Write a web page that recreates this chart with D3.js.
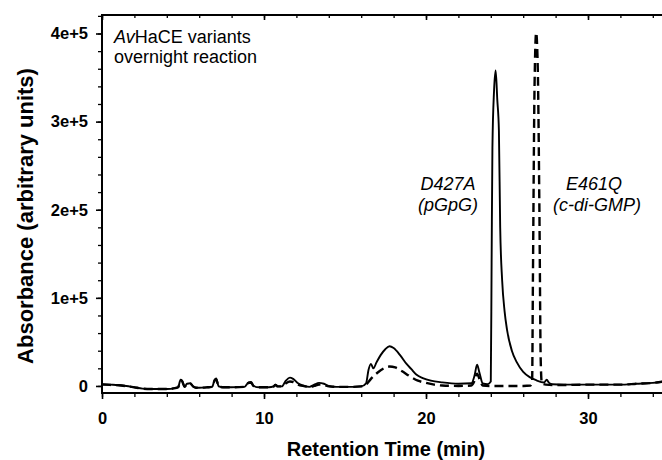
<!DOCTYPE html>
<html>
<head>
<meta charset="utf-8">
<script src="https://cdn.jsdelivr.net/npm/d3@7"></script>
<style>
  body { margin: 0; background: #fff; }
  svg { display: block; }
  text { font-family: "Liberation Sans", Arial, Helvetica, sans-serif; fill: #000; }
</style>
</head>
<body>
<svg id="chart" width="662" height="460"></svg>
<script>
// ---- data ----
const solidTime = [0,0.5,1,1.5,2,2.5,3,3.5,4,4.5,4.7,4.85,4.95,5.1,5.25,5.45,5.65,5.8,6.0,6.5,6.8,6.95,7.05,7.2,7.5,8,8.8,9.05,9.2,9.35,9.7,10.3,10.6,10.7,10.85,11.1,11.35,11.6,11.8,12.1,12.4,12.8,13.1,13.4,13.7,14.0,14.5,15,15.5,16.0,16.3,16.45,16.6,16.75,16.95,17.2,17.5,17.75,18.0,18.4,18.8,19.1,19.4,19.8,20.3,21,22,22.8,23.0,23.15,23.3,23.5,23.8,24.0,24.05,24.1,24.2,24.3,24.4,24.5,24.58,24.7,24.85,25.0,25.3,25.6,26.0,26.4,26.8,27.3,27.45,27.6,27.8,28.5,30,32,33,34,35];
const solidValue = [2000,1500,1000,0,-1500,-3000,-3500,-3500,-3500,-2500,-1500,7000,6000,-1000,2500,3000,-1000,-2000,-2000,-1500,-1000,7000,8500,-500,-1500,-1500,-1000,4000,4500,0,-1500,-1500,-500,1500,-500,-500,6000,9500,8000,3000,500,-1000,1500,3500,2500,0,-1000,-1000,-1000,-500,3000,18000,25000,20000,27000,35000,42000,45000,43000,35000,25000,19000,13000,9000,6000,4000,2500,3000,12000,24000,15000,3000,2000,5000,140000,270000,335000,358000,325000,290000,180000,120000,85000,64000,40000,27000,16000,10000,6500,4000,7000,3500,2000,1500,1500,1500,2500,3500,6000];

const dashTime = [0,0.5,1,1.5,2,2.5,3,3.5,4,4.5,4.7,4.85,4.95,5.1,5.25,5.45,5.65,5.8,6.0,6.5,6.8,6.95,7.05,7.2,7.5,8,8.8,9.05,9.2,9.35,9.7,10.3,10.6,10.7,10.85,11.1,11.35,11.6,11.8,12.1,12.4,12.8,13.1,13.4,13.7,14.0,14.5,15,15.5,16.0,16.3,16.6,17.0,17.4,17.75,18.1,18.5,19.0,19.5,20,20.5,21,22,22.8,23.0,23.15,23.3,23.5,24,25,26,26.45,26.55,26.6,26.7,26.8,26.9,27.0,27.08,27.15,27.4,28,30,32,33,34,35];
const dashValue = [1500,1200,800,-200,-1600,-3000,-3500,-3500,-3500,-2500,-1500,6000,5000,-1000,2000,2500,-1000,-2000,-2000,-1500,-1000,6000,7500,-500,-1500,-1500,-1000,3500,4000,0,-1500,-1500,-500,1000,-500,-500,3000,5000,4500,1500,0,-1000,0,1500,1000,-500,-1000,-1000,-1000,-500,1500,8000,15000,20000,22000,21000,17000,11000,6000,3500,1500,500,0,500,6000,14000,8000,500,0,0,0,500,5000,120000,340000,401000,360000,200000,30000,3000,1500,1000,1500,1500,2500,3500,6000];

const yTickValues = [0,100000,200000,300000,400000];
const yTickLabels = ["0","1e+5","2e+5","3e+5","4e+5"];
const xTickValues = [0,10,20,30];
const xTickLabels = ["0","10","20","30"];

// ---- layout ----
const svg = d3.select("#chart");
const W = 662;
const x = d3.scaleLinear().domain([0,35]).range([102, 669]);
const y = d3.scaleLinear().domain([-8000, 421000]).range([393, 15]);

const yMinor = d3.range(0, 420001, 20000);
const xMinor = d3.range(0, 35.01, 2);

// Frame lines
svg.append("line").attr("x1",x(0)).attr("x2",W).attr("y1",y.range()[1]).attr("y2",y.range()[1])
  .attr("stroke","#000").attr("stroke-width",2);
svg.append("line").attr("x1",x(0)).attr("x2",W).attr("y1",y.range()[0]).attr("y2",y.range()[0])
  .attr("stroke","#000").attr("stroke-width",2);
svg.append("line").attr("x1",x(0)).attr("x2",x(0)).attr("y1",y.range()[1]-1).attr("y2",y.range()[0]+1)
  .attr("stroke","#000").attr("stroke-width",2);

// Y axis (ticks outward)
const yAxisMinor = d3.axisLeft(y).tickValues(yMinor).tickSize(4).tickFormat("");
const gyMinor = svg.append("g").attr("transform",`translate(${x(0)},0)`).call(yAxisMinor);
gyMinor.select(".domain").remove();
gyMinor.selectAll("line").attr("stroke-width",1.3);

const yAxis = d3.axisLeft(y).tickValues(yTickValues).tickSize(6).tickPadding(8)
  .tickFormat((d,i) => yTickLabels[i]);
const gy = svg.append("g").attr("transform",`translate(${x(0)},0)`).call(yAxis);
gy.select(".domain").remove();
gy.selectAll("line").attr("stroke-width",1.6);
gy.selectAll("text").attr("font-size",16.5).attr("font-weight","bold")
  .style("font-family",'"Liberation Sans", Arial, sans-serif');

// X axis bottom (ticks outward)
const xAxisMinor = d3.axisBottom(x).tickValues(xMinor).tickSize(4).tickFormat("");
const gxMinor = svg.append("g").attr("transform",`translate(0,${y.range()[0]})`).call(xAxisMinor);
gxMinor.select(".domain").remove();
gxMinor.selectAll("line").attr("stroke-width",1.3);

const xAxis = d3.axisBottom(x).tickValues(xTickValues).tickSize(6).tickPadding(13)
  .tickFormat((d,i) => xTickLabels[i]);
const gx = svg.append("g").attr("transform",`translate(0,${y.range()[0]})`).call(xAxis);
gx.select(".domain").remove();
gx.selectAll("line").attr("stroke-width",1.6);
gx.selectAll("text").attr("font-size",16.5).attr("font-weight","bold")
  .style("font-family",'"Liberation Sans", Arial, sans-serif');

// Top axis (ticks inward)
const xTop = d3.axisBottom(x).tickValues(xMinor).tickSize(3).tickFormat("");
const gt = svg.append("g").attr("transform",`translate(0,${y.range()[1]})`).call(xTop);
gt.select(".domain").remove();
gt.selectAll("line").attr("stroke-width",1.3);
const xTopMajor = d3.axisBottom(x).tickValues(xTickValues).tickSize(5).tickFormat("");
const gt2 = svg.append("g").attr("transform",`translate(0,${y.range()[1]})`).call(xTopMajor);
gt2.select(".domain").remove();
gt2.selectAll("line").attr("stroke-width",1.6);

// Clip to plot area
svg.append("clipPath").attr("id","plotclip").append("rect")
  .attr("x",x(0)+1).attr("y",y.range()[1]+1).attr("width",W-x(0)).attr("height",y.range()[0]-y.range()[1]-2);

const line = d3.line().x(d => x(d[0])).y(d => y(d[1])).curve(d3.curveMonotoneX);
const solidData = solidTime.map((t,i) => [t, solidValue[i]]);
const dashData = dashTime.map((t,i) => [t, dashValue[i]]);

const plot = svg.append("g").attr("clip-path","url(#plotclip)");
plot.append("path").datum(dashData).attr("d",line)
  .attr("fill","none").attr("stroke","#000").attr("stroke-width",2.4)
  .attr("stroke-dasharray","9,5").attr("stroke-linejoin","round");
plot.append("path").datum(solidData).attr("d",line)
  .attr("fill","none").attr("stroke","#000").attr("stroke-width",1.9)
  .attr("stroke-linejoin","round");

// Annotation texts
const legend = svg.append("text").attr("x",114).attr("y",43).attr("font-size",18);
legend.append("tspan").attr("font-style","italic").text("Av");
legend.append("tspan").text("HaCE variants");
svg.append("text").attr("x",114).attr("y",63).attr("font-size",18).text("overnight reaction");

svg.append("text").attr("x",448).attr("y",190).attr("font-size",18).attr("font-style","italic")
  .attr("text-anchor","middle").text("D427A");
svg.append("text").attr("x",448).attr("y",211).attr("font-size",18).attr("font-style","italic")
  .attr("text-anchor","middle").text("(pGpG)");
svg.append("text").attr("x",594).attr("y",190).attr("font-size",18).attr("font-style","italic")
  .attr("text-anchor","middle").text("E461Q");
svg.append("text").attr("x",597).attr("y",211).attr("font-size",18).attr("font-style","italic")
  .attr("text-anchor","middle").text("(c-di-GMP)");

// Axis titles
svg.append("text").attr("x",386).attr("y",456).attr("font-size",20).attr("font-weight","bold")
  .attr("text-anchor","middle").text("Retention Time (min)");
svg.append("text").attr("transform","translate(33,216) rotate(-90)").attr("font-size",22)
  .attr("font-weight","bold").attr("text-anchor","middle").text("Absorbance (arbitrary units)");
</script>
</body>
</html>
